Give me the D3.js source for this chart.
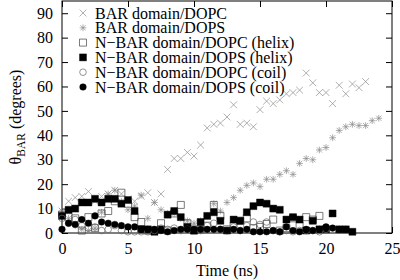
<!DOCTYPE html>
<html lang="en">
<head>
<meta charset="UTF-8">
<title>BAR domain angle vs time</title>
<script src="https://d3js.org/d3.v7.min.js"></script>
<style>
  body { margin: 0; background: #fff; }
  .frame { fill: none; stroke: #000; stroke-width: 1; }
  .axis .tick line { stroke: #000; }
</style>
</head>
<body>
<script>
// sample times (ns), each series covers the first N of them
const times = [0, 0.5, 1, 1.5, 2, 2.5, 3, 3.5, 4, 4.5, 5, 5.5, 6, 6.5, 7, 7.5, 8, 8.5, 9, 9.5,
  10, 10.5, 11, 11.5, 12, 12.5, 13, 13.5, 14, 14.5, 15, 15.5, 16, 16.5, 17, 17.5, 18, 18.5, 19, 19.5,
  20, 20.5, 21, 21.5, 22, 22.5, 23, 23.5, 24];

const barDOPC = [9, 13, 14.5, 15, 17, 13, 15, 16, 17.5, 16, 14, 13, 15, 16.5, 12.5, 16, 26, 30.5, 30.5, 33,
  31.5, 36, 43, 44.5, 45, 47.5, 52.5, 44.5, 45, 43.5, 50.5, 54, 53, 54.5, 57, 57.5, 58.5, 65.5, 61.5, 57.5,
  57.5, 53, 60.5, 57, 61, 59.5, 62];
const barDOPS = [9, 6, 3, 1.5, 1, 2, 8.5, 16, 17.5, 13, 9.5, 11, 15.5, 6, 12.5, 9.5, 8, 8, 6, 5,
  4, 5, 7, 12, 9, 12.5, 14.5, 17.5, 19.5, 20.5, 19, 22, 22, 24, 25.5, 24, 28.5, 30.5, 30, 34,
  35, 39, 42, 43.5, 44.5, 44, 44, 46, 47];
const nbarDOPCHelix = [7.5, 6.5, 6, 1, 6.5, 2, 8, 9, 13, 16.5, 12, 6.5, 4.5, 1, 1, 4, 1, 8, 11.5, 4,
  1, 1.5, 3, 11.5, 7, 1.5, 3, 5, 6, 2, 2.5, 3.7, 5.5, 1, 2, 6, 3, 6.5, 5.5, 7];
const nbarDOPSHelix = [7, 9.5, 10, 12.5, 12.5, 14, 12.5, 14, 14, 12, 13.5, 9, 1.5, 1.5, 0.5, 1.5, 7.5, 9, 6.5, 2.5,
  1, 4.5, 7, 8.5, 5, 1, 5.5, 5, 8.5, 11, 12.5, 12, 10, 9.5, 5.5, 6.5, 5.5, 1, 5, 1.5,
  1.5, 8, 1.5, 1.5, 0.5];
const nbarDOPCCoil = [6, 4, 5.5, 3, 2, 2.5, 1, 1.5, 3, 1, 0.5, 0.5, 0.5, 0.5, 1, 2, 1.5, 2, 1, 1.5,
  2, 1, 3, 4, 1.5, 1, 2.5, 1, 3, 4.5, 3.5, 4.5, 1, 0.5, 1, 0.5, 1, 1, 1, 0.5,
  1.5];
const nbarDOPSCoil = [1.5, 4, 3.5, 5.5, 4, 7, 4.5, 4, 3.5, 3, 2.5, 2.5, 1.5, 1.5, 1.5, 1, 0.5, 1, 1.5, 1.5,
  1.5, 1.5, 1.5, 1.5, 1.5, 1, 1.5, 1, 1.5, 0.5, 0.5, 0.5, 1, 0.5, 2.5, 1, 0.5, 1.5, 1, 1.5,
  2.5, 2, 1.5, 1.5];

const seriesNames = ["BAR domain/DOPC", "BAR domain/DOPS", "N\u2212BAR domain/DOPC (helix)",
  "N\u2212BAR domain/DOPS (helix)", "N\u2212BAR domain/DOPC (coil)", "N\u2212BAR domain/DOPS (coil)"];
const xTicks = [0, 5, 10, 15, 20, 25];
const yTicks = [0, 10, 20, 30, 40, 50, 60, 70, 80, 90];

// look of each series
const series = [
  { name: seriesNames[0], values: barDOPC, shape: "times", color: "#8c8c8c", filled: false },
  { name: seriesNames[1], values: barDOPS, shape: "star", color: "#8c8c8c", filled: false },
  { name: seriesNames[2], values: nbarDOPCHelix, shape: "square", color: "#444", filled: false },
  { name: seriesNames[3], values: nbarDOPSHelix, shape: "square", color: "#000", filled: true },
  { name: seriesNames[4], values: nbarDOPCCoil, shape: "circle", color: "#666", filled: false },
  { name: seriesNames[5], values: nbarDOPSCoil, shape: "circle", color: "#000", filled: true }
];

const width = 400, height = 280;
const plot = { left: 62, right: 392, top: 1, bottom: 233 };
const serif = "'Liberation Serif', 'Times New Roman', serif";
const fontSize = 16;

const svg = d3.select("body").append("svg")
  .attr("width", width)
  .attr("height", height);

const x = d3.scaleLinear().domain([0, 25]).range([plot.left, plot.right]);
const y = d3.scaleLinear().domain([0, 95]).range([plot.bottom, plot.top]);

function markerPath(shape, s) {
  if (shape === "times") return `M${-s},${-s}L${s},${s}M${-s},${s}L${s},${-s}`;
  if (shape === "star") return `M${-s},${-s}L${s},${s}M${-s},${s}L${s},${-s}M${-s * 1.3},0L${s * 1.3},0M0,${-s * 1.3}L0,${s * 1.3}`;
  if (shape === "square") return `M${-s},${-s}H${s}V${s}H${-s}Z`;
  return d3.symbol(d3.symbolCircle, Math.PI * s * s)();
}
const markerSize = { times: 3.4, star: 2.6, square: 3.5, circle: 3.3 };

function styleMarker(sel, d) {
  sel.attr("d", markerPath(d.shape, markerSize[d.shape]))
    .attr("fill", d.filled ? d.color : "none")
    .attr("stroke", d.color)
    .attr("stroke-width", d.filled ? 0.4 : 0.7);
}

function serifText(sel) {
  sel.style("font-family", serif).style("font-size", fontSize + "px").attr("fill", "#000");
}

// axes: gnuplot-style inward ticks on all four sides
svg.append("g").attr("class", "axis")
  .attr("transform", `translate(0,${plot.bottom})`)
  .call(d3.axisBottom(x).tickValues(xTicks).tickSize(-6).tickPadding(10));
svg.append("g").attr("class", "axis")
  .attr("transform", `translate(${plot.left},0)`)
  .call(d3.axisLeft(y).tickValues(yTicks).tickSize(-6).tickPadding(9));
svg.append("g").attr("class", "axis")
  .attr("transform", `translate(0,${plot.top})`)
  .call(d3.axisTop(x).tickValues(xTicks).tickSize(-6).tickFormat(""));
svg.append("g").attr("class", "axis")
  .attr("transform", `translate(${plot.right},0)`)
  .call(d3.axisRight(y).tickValues(yTicks).tickSize(-6).tickFormat(""));

svg.selectAll(".axis .domain").remove();
svg.selectAll(".axis text").call(serifText);

svg.append("rect").attr("class", "frame")
  .attr("x", plot.left).attr("y", plot.top)
  .attr("width", plot.right - plot.left).attr("height", plot.bottom - plot.top);

// data points
series.forEach(s => {
  svg.append("g").selectAll("path")
    .data(s.values)
    .enter()
    .append("path")
    .attr("transform", (v, i) => `translate(${x(times[i])},${y(v)})`)
    .each(function () { styleMarker(d3.select(this), s); });
});

// legend
const legend = svg.append("g");
series.forEach((s, i) => {
  const ly = 13 + i * 14.8;
  legend.append("path")
    .attr("transform", `translate(83,${ly})`)
    .call(sel => styleMarker(sel, s));
  legend.append("text")
    .attr("x", 95).attr("y", ly).attr("dy", "0.35em")
    .call(serifText)
    .text(s.name);
});

// axis titles
svg.append("text")
  .attr("x", (plot.left + plot.right) / 2).attr("y", 276)
  .attr("text-anchor", "middle")
  .call(serifText)
  .text("Time (ns)");

const yl = svg.append("text")
  .attr("transform", "translate(21,117) rotate(-90)")
  .attr("text-anchor", "middle")
  .call(serifText);
yl.append("tspan").text("\u03b8");
yl.append("tspan").attr("dy", 4).style("font-size", "11.5px").text("BAR");
yl.append("tspan").attr("dy", -4).text(" (degrees)");
</script>
</body>
</html>
